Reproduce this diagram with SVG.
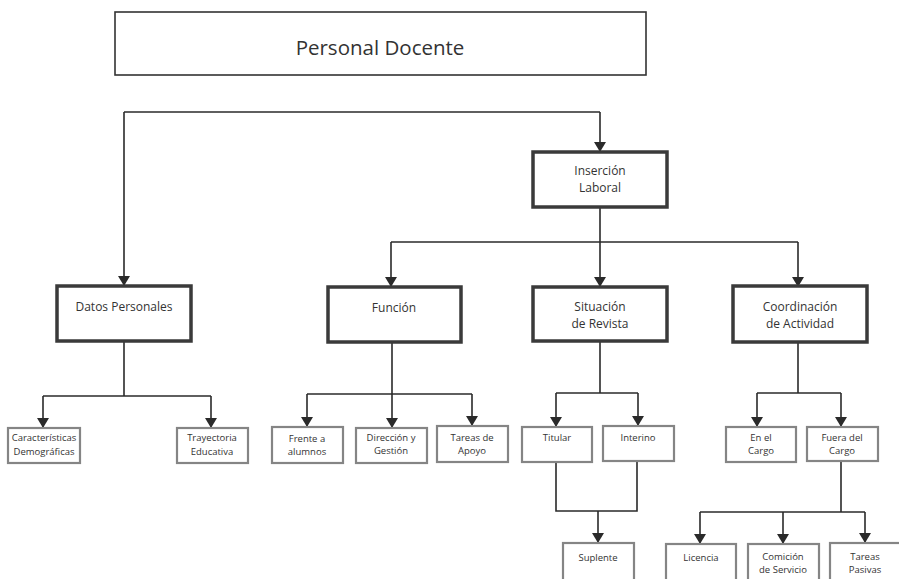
<svg xmlns="http://www.w3.org/2000/svg" width="899" height="579" viewBox="0 0 899 579">
<defs>
<marker id="arr" markerUnits="userSpaceOnUse" markerWidth="10" markerHeight="12" refX="10" refY="6" orient="auto" viewBox="0 0 10 12">
<path d="M0,0 L10,6 L0,12 Z" fill="#2a2a2a"/>
</marker>
<style>
.top{fill:#fff;stroke:#333;stroke-width:1.6}
.main{fill:#fff;stroke:#3a3a3a;stroke-width:3.5}
.leaf{fill:#fff;stroke:#858585;stroke-width:2.2}
text{font-family:"Open Sans","Noto Sans","Liberation Sans",sans-serif;fill:#333;text-anchor:middle}
.t1{font-size:20.5px}
.t2{font-size:12px}
.t3{font-size:9.5px}
.c line,.c path{stroke:#2a2a2a;stroke-width:1.6;fill:none}
.a{marker-end:url(#arr)}
</style>
</defs>
<rect width="899" height="579" fill="#fff"/>
<g class="c" id="connectors">
<line x1="124" y1="112" x2="600" y2="112"/>
<line class="a" x1="124" y1="112" x2="124" y2="286"/>
<line class="a" x1="600" y1="112" x2="600" y2="152"/>
<line x1="600" y1="207" x2="600" y2="242"/>
<line x1="391" y1="242" x2="798" y2="242"/>
<line class="a" x1="391" y1="242" x2="391" y2="287"/>
<line class="a" x1="600" y1="242" x2="600" y2="287"/>
<line class="a" x1="798" y1="242" x2="798" y2="287"/>
<line x1="124" y1="341" x2="124" y2="396"/>
<line x1="43" y1="396" x2="211" y2="396"/>
<line class="a" x1="43" y1="396" x2="43" y2="428"/>
<line class="a" x1="211" y1="396" x2="211" y2="428"/>
<line x1="392" y1="342" x2="392" y2="394"/>
<line x1="307" y1="394" x2="472" y2="394"/>
<line class="a" x1="307" y1="394" x2="307" y2="427"/>
<line class="a" x1="392" y1="394" x2="392" y2="428"/>
<line class="a" x1="472" y1="394" x2="472" y2="426"/>
<line x1="600" y1="341" x2="600" y2="393"/>
<line x1="556" y1="393" x2="638" y2="393"/>
<line class="a" x1="556" y1="393" x2="556" y2="427"/>
<line class="a" x1="638" y1="393" x2="638" y2="426"/>
<path d="M556,462 V511 H637 V461"/>
<line class="a" x1="598" y1="511" x2="598" y2="543"/>
<line x1="798" y1="342" x2="798" y2="393"/>
<line x1="757" y1="393" x2="841" y2="393"/>
<line class="a" x1="757" y1="393" x2="757" y2="427"/>
<line class="a" x1="841" y1="393" x2="841" y2="427"/>
<line x1="841" y1="461" x2="841" y2="512"/>
<line x1="700" y1="512" x2="865" y2="512"/>
<line class="a" x1="700" y1="512" x2="700" y2="544"/>
<line class="a" x1="783" y1="512" x2="783" y2="544"/>
<line class="a" x1="865" y1="512" x2="865" y2="543"/>
</g>
<g id="personal-docente"><rect class="top" x="115" y="12" width="531" height="63"/><text class="t1" x="380" y="55">Personal Docente</text></g>
<g id="insercion-laboral"><rect class="main" x="533" y="152" width="134" height="55"/><text class="t2" x="600" y="175">Inserción</text><text class="t2" x="600" y="191.5">Laboral</text></g>
<g id="datos-personales"><rect class="main" x="57" y="286" width="134" height="55"/><text class="t2" x="124" y="311">Datos Personales</text></g>
<g id="funcion"><rect class="main" x="328" y="287" width="133" height="55"/><text class="t2" x="394" y="312">Función</text></g>
<g id="situacion-de-revista"><rect class="main" x="533" y="287" width="134" height="54"/><text class="t2" x="600" y="311">Situación</text><text class="t2" x="600" y="327.5">de Revista</text></g>
<g id="coordinacion-de-actividad"><rect class="main" x="733" y="286" width="134" height="56"/><text class="t2" x="800" y="311">Coordinación</text><text class="t2" x="800" y="327.5">de Actividad</text></g>
<g id="caracteristicas"><rect class="leaf" x="8" y="428" width="72" height="35"/><text class="t3" x="44" y="441">Características</text><text class="t3" x="44" y="455">Demográficas</text></g>
<g id="trayectoria"><rect class="leaf" x="177" y="428" width="71" height="35"/><text class="t3" x="212" y="441">Trayectoria</text><text class="t3" x="212" y="455">Educativa</text></g>
<g id="frente"><rect class="leaf" x="272" y="427" width="71" height="36"/><text class="t3" x="307" y="442">Frente a</text><text class="t3" x="307" y="455">alumnos</text></g>
<g id="direccion"><rect class="leaf" x="356" y="428" width="71" height="35"/><text class="t3" x="391" y="441">Dirección y</text><text class="t3" x="391" y="454">Gestión</text></g>
<g id="tareas-apoyo"><rect class="leaf" x="437" y="426" width="71" height="36"/><text class="t3" x="472" y="441">Tareas de</text><text class="t3" x="472" y="454">Apoyo</text></g>
<g id="titular"><rect class="leaf" x="522" y="427" width="70" height="35"/><text class="t3" x="557" y="441">Titular</text></g>
<g id="interino"><rect class="leaf" x="603" y="426" width="71" height="35"/><text class="t3" x="638" y="441">Interino</text></g>
<g id="suplente"><rect class="leaf" x="563" y="543" width="71" height="50"/><text class="t3" x="598" y="561">Suplente</text></g>
<g id="en-el-cargo"><rect class="leaf" x="726" y="427" width="70" height="35"/><text class="t3" x="761" y="441">En el</text><text class="t3" x="761" y="454">Cargo</text></g>
<g id="fuera-del-cargo"><rect class="leaf" x="807" y="427" width="71" height="34"/><text class="t3" x="842" y="441">Fuera del</text><text class="t3" x="842" y="454">Cargo</text></g>
<g id="licencia"><rect class="leaf" x="666" y="544" width="70" height="50"/><text class="t3" x="701" y="561">Licencia</text></g>
<g id="comicion"><rect class="leaf" x="748" y="544" width="71" height="50"/><text class="t3" x="783" y="560">Comición</text><text class="t3" x="783" y="573">de Servicio</text></g>
<g id="tareas-pasivas"><rect class="leaf" x="830" y="543" width="75" height="50"/><text class="t3" x="865" y="560">Tareas</text><text class="t3" x="865" y="573">Pasivas</text></g>
</svg>
